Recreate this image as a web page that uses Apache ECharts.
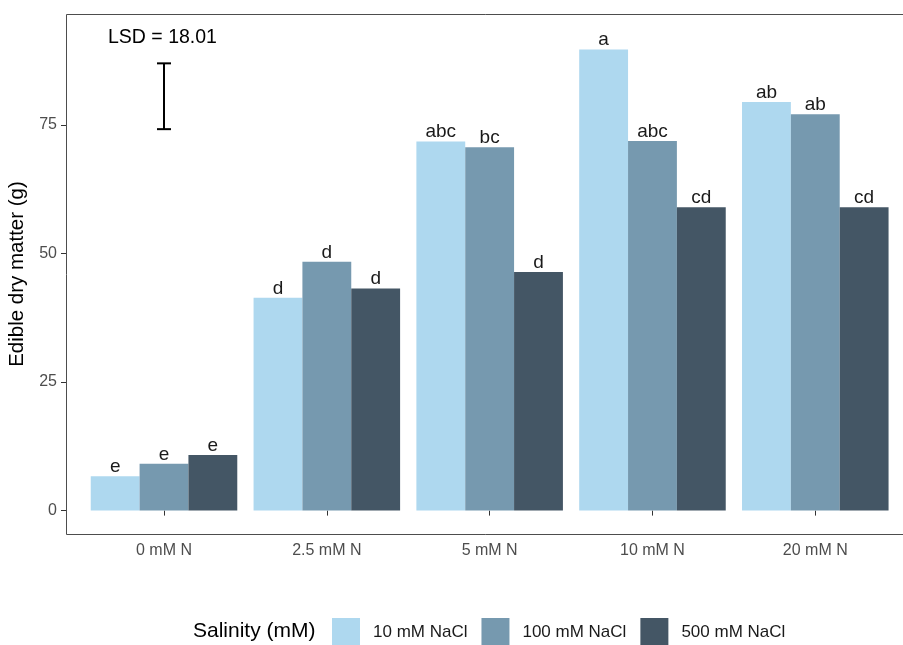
<!DOCTYPE html>
<html style="height: 100%">
<head>
    <meta charset="utf-8" />
    <title>Edible dry matter</title>
    <script type="text/javascript" src="https://cdn.jsdelivr.net/npm/echarts@6/dist/echarts.min.js"></script>
</head>
<body style="height: 100%; margin: 0">
<div id="chart" style="width: 903px; height: 645px"></div>
<script type="text/javascript">
      // data
      var categories = ["0 mM N", "2.5 mM N", "5 mM N", "10 mM N", "20 mM N"];
      var seriesNames = ["10 mM NaCl", "100 mM NaCl", "500 mM NaCl"];
      var nacl10 = [6.7, 41.4, 71.8, 89.7, 79.5];
      var nacl100 = [9.1, 48.4, 70.7, 71.9, 77.1];
      var nacl500 = [10.8, 43.2, 46.4, 59.0, 59.0];
      var letters10 = ["e", "d", "abc", "a", "ab"];
      var letters100 = ["e", "d", "bc", "abc", "ab"];
      var letters500 = ["e", "d", "d", "cd", "cd"];
      var yTicks = [0, 25, 50, 75];
      var lsdBar = [[0, 74.2, 87.0]]; // category index, low, high
      var lsdText = "LSD = 18.01";

      var colors = ["#aed8ef", "#7699af", "#445665"];
      var font = "Liberation Sans, Arial, sans-serif";

      function barSeries(name, values, letters, color) {
        return {
          name: name,
          type: "bar",
          data: values,
          barGap: "0%",
          barCategoryGap: "10%",
          itemStyle: { color: color },
          label: {
            show: true,
            position: "top",
            distance: 0,
            color: "#1a1a1a",
            fontSize: 19,
            fontFamily: font,
            formatter: function (p) { return letters[p.dataIndex]; }
          }
        };
      }

      var myChart = echarts.init(document.getElementById("chart"));
      var option = {
        animation: false,
        color: colors,
        // ggplot pads a discrete axis by 0.6 of a category, so the panel is wider than the bands
        grid: {
          left: 82.6, right: 6.3, top: 14, bottom: 111,
          outerBoundsMode: "none"
        },
        xAxis: {
          type: "category",
          data: categories,
          axisLine: { show: false },
          axisTick: { show: true, alignWithLabel: true, length: 5, lineStyle: { color: "#333" } },
          axisLabel: { color: "#4d4d4d", fontSize: 16, fontFamily: font, margin: 9 }
        },
        yAxis: {
          type: "value",
          min: -4.55,
          max: 96.6,
          offset: 16.6,
          name: "Edible dry matter (g)",
          nameLocation: "middle",
          nameGap: 33,
          nameTextStyle: { color: "#000", fontSize: 20.5, fontFamily: font },
          axisLine: { show: false },
          splitLine: { show: false },
          axisTick: { show: true, length: 5, customValues: yTicks, lineStyle: { color: "#333" } },
          axisLabel: { color: "#4d4d4d", fontSize: 16, fontFamily: font, margin: 9, customValues: yTicks }
        },
        legend: {
          left: 327,
          top: 613,
          itemWidth: 28,
          itemHeight: 28,
          itemGap: 14,
          icon: "rect",
          data: seriesNames,
          textStyle: { color: "#1a1a1a", fontSize: 17, fontFamily: font, padding: [0, 0, 0, 8] }
        },
        graphic: [
          {
            type: "rect", silent: true,
            shape: { x: 66.5, y: 14.5, width: 846, height: 520 },
            style: { fill: "none", stroke: "#4d4d4d", lineWidth: 1 }
          },
          {
            type: "text", left: 193, top: 621,
            style: { text: "Salinity (mM)", fill: "#000", fontSize: 21, fontFamily: font }
          },
          {
            type: "text", left: 108, top: 28,
            style: { text: lsdText, fill: "#000", fontSize: 19.5, fontFamily: font }
          }
        ],
        series: [
          barSeries(seriesNames[0], nacl10, letters10, colors[0]),
          barSeries(seriesNames[1], nacl100, letters100, colors[1]),
          barSeries(seriesNames[2], nacl500, letters500, colors[2]),
          {
            type: "custom",
            data: lsdBar,
            encode: { x: 0, y: [1, 2] },
            silent: true,
            renderItem: function (params, api) {
              var lo = api.coord([api.value(0), api.value(1)]);
              var hi = api.coord([api.value(0), api.value(2)]);
              var w = 7;
              var style = { stroke: "#000", lineWidth: 2 };
              return {
                type: "group",
                children: [
                  { type: "line", shape: { x1: lo[0], y1: lo[1], x2: hi[0], y2: hi[1] }, style: style },
                  { type: "line", shape: { x1: lo[0] - w, y1: lo[1], x2: lo[0] + w, y2: lo[1] }, style: style },
                  { type: "line", shape: { x1: hi[0] - w, y1: hi[1], x2: hi[0] + w, y2: hi[1] }, style: style }
                ]
              };
            }
          }
        ]
      };
      myChart.setOption(option);
</script>
</body>
</html>
